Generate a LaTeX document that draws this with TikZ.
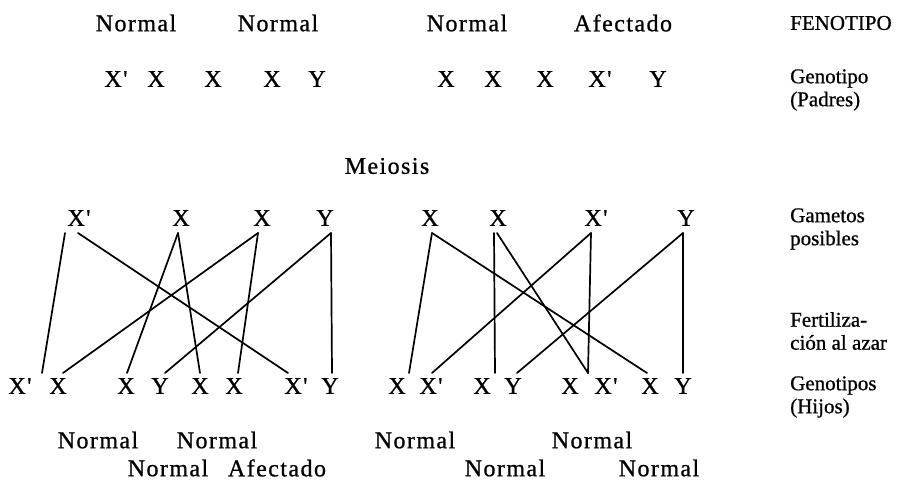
\documentclass[tikz,border=0pt]{standalone}
\usepackage{fontspec}
\setmainfont{Liberation Serif}[FakeBold=0.8]
\newfontfamily\widefont{Liberation Serif}[FakeBold=0.8,LetterSpace=6]
\usetikzlibrary{calc}
\begin{document}
\begin{tikzpicture}[x=1pt,y=-1pt,
  lbl/.style={inner sep=0pt,font=\widefont\fontsize{24}{26}\selectfont},
  side/.style={inner sep=0pt,anchor=west,align=left,font=\fontsize{21}{23}\selectfont},
  cross/.style={line width=1.7pt,line cap=round}]
\useasboundingbox (0,0) rectangle (905,484);
% phenotypes of parents
\node[lbl] (p1) at (136,23) {Normal};
\node[lbl] (p2) at (278,23) {Normal};
\node[lbl] (p3) at (467,23) {Normal};
\node[lbl] (p4) at (623,23) {Afectado};
% parent genotypes
\node[lbl] (m1) at (116,79) {X'};
\node[lbl] (m2) at (156,79) {X};
\node[lbl] (m3) at (213,79) {X};
\node[lbl] (m4) at (272,79) {X};
\node[lbl] (m5) at (317,79) {Y};
\node[lbl] (m6) at (446,79) {X};
\node[lbl] (m7) at (493,79) {X};
\node[lbl] (m8) at (545,79) {X};
\node[lbl] (m9) at (600,79) {X'};
\node[lbl] (m10) at (658,79) {Y};
\node[lbl] (mei) at (387,166) {Meiosis};
% gametes
\node[lbl] (g1) at (79,218) {X'};
\node[lbl] (g2) at (181,218) {X};
\node[lbl] (g3) at (262,218) {X};
\node[lbl] (g4) at (325,218) {Y};
\node[lbl] (g5) at (430,218) {X};
\node[lbl] (g6) at (498,218) {X};
\node[lbl] (g7) at (596,218) {X'};
\node[lbl] (g8) at (686,218) {Y};
% offspring
\node[lbl] (o1) at (20,386) {X'};
\node[lbl] (o2) at (58,386) {X};
\node[lbl] (o3) at (126,386) {X};
\node[lbl] (o4) at (160,386) {Y};
\node[lbl] (o5) at (200,386) {X};
\node[lbl] (o6) at (234,386) {X};
\node[lbl] (o7) at (296,386) {X'};
\node[lbl] (o8) at (330,386) {Y};
\node[lbl] (o9) at (397,386) {X};
\node[lbl] (o10) at (431,386) {X'};
\node[lbl] (o11) at (482,386) {X};
\node[lbl] (o12) at (513,386) {Y};
\node[lbl] (o13) at (570,386) {X};
\node[lbl] (o14) at (606,386) {X'};
\node[lbl] (o15) at (650,386) {X};
\node[lbl] (o16) at (683,386) {Y};
% offspring phenotypes
\node[lbl] (f1) at (98,440) {Normal};
\node[lbl] (f2) at (217,440) {Normal};
\node[lbl] (f3) at (415,440) {Normal};
\node[lbl] (f4) at (592,440) {Normal};
\node[lbl] (f5) at (168,468) {Normal};
\node[lbl] (f6) at (277,468) {Afectado};
\node[lbl] (f7) at (505,468) {Normal};
\node[lbl] (f8) at (659,468) {Normal};
% side labels
\node[side] (s1) at (790,23) {FENOTIPO};
\node[side] (s2) at (790,90) {Genotipo\\(Padres)};
\node[side] (s3) at (790,229) {Gametos\\posibles};
\node[side] (s4) at (790,331) {Fertiliza-\\ción al azar};
\node[side] (s5) at (790,397) {Genotipos\\(Hijos)};
% crossing lines, left
\draw[cross] ($(g1)+(-14,15)$) -- ($(o1)+(22,-13)$);
\draw[cross] ($(g1)+(-1,15)$) -- ($(o7)+(-8,-13)$);
\draw[cross] ($(g2)+(-3,15)$) -- ($(o3)+(1,-13)$);
\draw[cross] ($(g2)+(-3,15)$) -- ($(o5)+(0,-13)$);
\draw[cross] ($(g3)+(-4,15)$) -- ($(o2)+(5,-13)$);
\draw[cross] ($(g3)+(-4,15)$) -- ($(o6)+(4,-13)$);
\draw[cross] ($(g4)+(6,15)$) -- ($(o4)+(5,-13)$);
\draw[cross] ($(g4)+(6,15)$) -- ($(o8)+(2,-13)$);
% crossing lines, right
\draw[cross] ($(g5)+(2,15)$) -- ($(o9)+(12,-13)$);
\draw[cross] ($(g5)+(2,15)$) -- ($(o15)+(-3,-13)$);
\draw[cross] ($(g6)+(-4,15)$) -- ($(o11)+(13,-13)$);
\draw[cross] ($(g6)+(-1,15)$) -- ($(o13)+(18,-13)$);
\draw[cross] ($(g7)+(-5,15)$) -- ($(o10)+(1,-13)$);
\draw[cross] ($(g7)+(-5,15)$) -- ($(o14)+(-18,-13)$);
\draw[cross] ($(g8)+(-3,15)$) -- ($(o12)+(4,-13)$);
\draw[cross] ($(g8)+(-3,15)$) -- ($(o16)+(0,-13)$);
\end{tikzpicture}
\end{document}
